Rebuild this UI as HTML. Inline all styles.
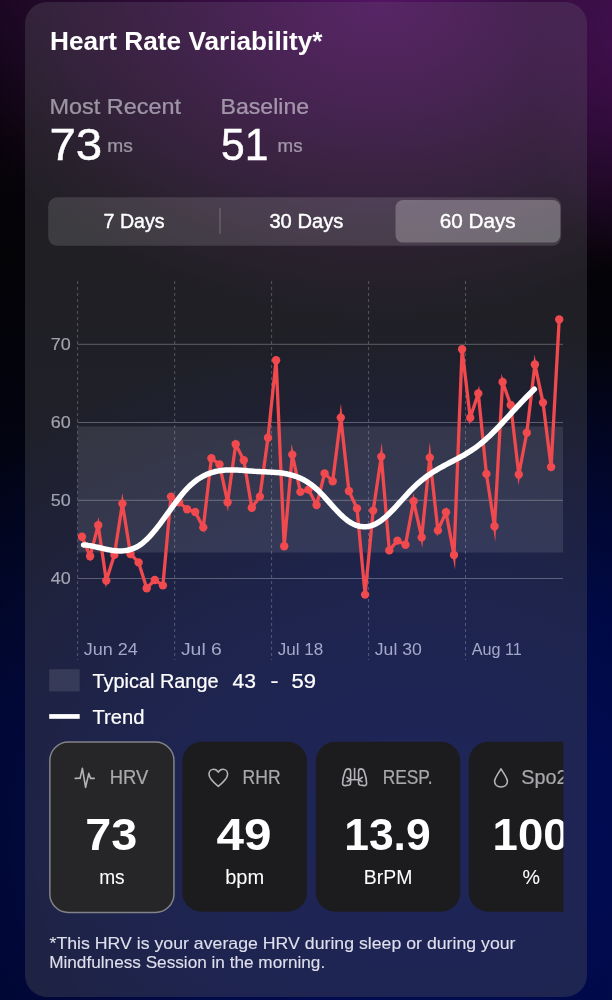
<!DOCTYPE html>
<html><head><meta charset="utf-8"><style>
html,body{margin:0;padding:0;width:612px;height:1000px;overflow:hidden}
body{position:relative;background:#08061a}
#bg{position:absolute;left:0;top:0;width:612px;height:1000px;
background:
 radial-gradient(ellipse 440px 320px at 380px 0px, rgba(98,22,116,0.84), rgba(98,22,116,0.38) 50%, rgba(98,22,116,0) 100%), radial-gradient(ellipse 90px 230px at 620px 40px, rgba(70,16,84,0.6), rgba(70,16,84,0) 100%),
 radial-gradient(ellipse 200px 140px at 20px 0px, rgba(50,12,60,0.22), rgba(50,12,60,0) 100%),
 radial-gradient(ellipse 620px 500px at 420px 820px, rgba(0,14,104,0.86), rgba(0,14,104,0.56) 50%, rgba(0,14,104,0) 100%),
 linear-gradient(180deg, #0c0410 0%, #040306 26%, #020414 50%, #01051c 75%, #010520 100%);}
#card{position:absolute;left:25px;top:2px;width:562px;height:995px;border-radius:22px;background:radial-gradient(ellipse 380px 240px at 350px 10px, rgba(100,24,120,0.26), rgba(100,24,120,0) 100%),rgba(84,84,90,0.36);}
svg{position:absolute;left:0;top:0;will-change:transform}
text{font-family:"Liberation Sans",sans-serif}
</style></head><body>
<div id="bg"></div>
<div id="card"></div>
<svg width="612" height="1000" viewBox="0 0 612 1000">
<!-- segmented control -->
<rect x="48.2" y="197.3" width="513" height="48.5" rx="9" fill="rgba(255,255,255,0.13)"/>
<rect x="395.5" y="200" width="164.8" height="42.6" rx="7.5" fill="rgba(255,255,255,0.235)"/>
<line x1="220" y1="208" x2="220" y2="234" stroke="rgba(255,255,255,0.22)" stroke-width="1.2"/>
<!-- chart band -->
<rect x="77.6" y="426.5" width="485.4" height="126" fill="rgba(255,255,255,0.10)"/>
<!-- grid -->
<g stroke="rgba(255,255,255,0.28)" stroke-width="1">
<line x1="77.6" y1="344.3" x2="563" y2="344.3"/><line x1="77.6" y1="422.5" x2="563" y2="422.5"/><line x1="77.6" y1="500.3" x2="563" y2="500.3"/><line x1="77.6" y1="578.5" x2="563" y2="578.5"/>
</g>
<g stroke="rgba(255,255,255,0.24)" stroke-width="1" stroke-dasharray="3 3">
<line x1="77.6" y1="281" x2="77.6" y2="660"/><line x1="174.7" y1="281" x2="174.7" y2="660"/><line x1="271.6" y1="281" x2="271.6" y2="660"/><line x1="368.6" y1="281" x2="368.6" y2="660"/><line x1="465.5" y1="281" x2="465.5" y2="660"/>
</g>
<!-- data -->
<polyline points="82.0,536.7 90.1,556.3 98.2,525.2 106.3,580.6 114.4,554.9 122.4,503.6 130.5,554.0 138.6,562.4 146.7,588.2 154.8,580.0 162.9,585.4 171.0,496.6 179.1,502.2 187.1,509.2 195.2,512.0 203.3,527.4 211.4,458.3 219.5,464.4 227.6,502.2 235.7,444.3 243.8,460.2 251.8,507.8 259.9,496.6 268.0,437.8 276.1,360.2 284.2,546.2 292.3,454.6 300.4,491.9 308.5,489.6 316.6,505.0 324.6,473.4 332.7,481.2 340.8,417.6 348.9,491.0 357.0,508.4 365.1,594.6 373.2,510.6 381.3,456.6 389.3,550.4 397.4,540.6 405.5,544.8 413.6,501.3 421.7,537.4 429.8,457.6 437.9,530.4 446.0,512.2 454.0,555.0 462.1,349.2 470.2,417.8 478.3,393.4 486.4,473.9 494.5,526.2 502.6,382.0 510.7,405.0 518.8,474.5 526.8,432.8 534.9,364.5 543.0,402.6 551.1,467.0 559.2,319.4" fill="none" stroke="#f04a4f" stroke-width="3.3" stroke-linejoin="miter" stroke-miterlimit="10"/>
<g fill="#f04a4f"><circle cx="82.0" cy="536.7" r="4.2"/><circle cx="90.1" cy="556.3" r="4.2"/><circle cx="98.2" cy="525.2" r="4.2"/><circle cx="106.3" cy="580.6" r="4.2"/><circle cx="114.4" cy="554.9" r="4.2"/><circle cx="122.4" cy="503.6" r="4.2"/><circle cx="130.5" cy="554.0" r="4.2"/><circle cx="138.6" cy="562.4" r="4.2"/><circle cx="146.7" cy="588.2" r="4.2"/><circle cx="154.8" cy="580.0" r="4.2"/><circle cx="162.9" cy="585.4" r="4.2"/><circle cx="171.0" cy="496.6" r="4.2"/><circle cx="179.1" cy="502.2" r="4.2"/><circle cx="187.1" cy="509.2" r="4.2"/><circle cx="195.2" cy="512.0" r="4.2"/><circle cx="203.3" cy="527.4" r="4.2"/><circle cx="211.4" cy="458.3" r="4.2"/><circle cx="219.5" cy="464.4" r="4.2"/><circle cx="227.6" cy="502.2" r="4.2"/><circle cx="235.7" cy="444.3" r="4.2"/><circle cx="243.8" cy="460.2" r="4.2"/><circle cx="251.8" cy="507.8" r="4.2"/><circle cx="259.9" cy="496.6" r="4.2"/><circle cx="268.0" cy="437.8" r="4.2"/><circle cx="276.1" cy="360.2" r="4.2"/><circle cx="284.2" cy="546.2" r="4.2"/><circle cx="292.3" cy="454.6" r="4.2"/><circle cx="300.4" cy="491.9" r="4.2"/><circle cx="308.5" cy="489.6" r="4.2"/><circle cx="316.6" cy="505.0" r="4.2"/><circle cx="324.6" cy="473.4" r="4.2"/><circle cx="332.7" cy="481.2" r="4.2"/><circle cx="340.8" cy="417.6" r="4.2"/><circle cx="348.9" cy="491.0" r="4.2"/><circle cx="357.0" cy="508.4" r="4.2"/><circle cx="365.1" cy="594.6" r="4.2"/><circle cx="373.2" cy="510.6" r="4.2"/><circle cx="381.3" cy="456.6" r="4.2"/><circle cx="389.3" cy="550.4" r="4.2"/><circle cx="397.4" cy="540.6" r="4.2"/><circle cx="405.5" cy="544.8" r="4.2"/><circle cx="413.6" cy="501.3" r="4.2"/><circle cx="421.7" cy="537.4" r="4.2"/><circle cx="429.8" cy="457.6" r="4.2"/><circle cx="437.9" cy="530.4" r="4.2"/><circle cx="446.0" cy="512.2" r="4.2"/><circle cx="454.0" cy="555.0" r="4.2"/><circle cx="462.1" cy="349.2" r="4.2"/><circle cx="470.2" cy="417.8" r="4.2"/><circle cx="478.3" cy="393.4" r="4.2"/><circle cx="486.4" cy="473.9" r="4.2"/><circle cx="494.5" cy="526.2" r="4.2"/><circle cx="502.6" cy="382.0" r="4.2"/><circle cx="510.7" cy="405.0" r="4.2"/><circle cx="518.8" cy="474.5" r="4.2"/><circle cx="526.8" cy="432.8" r="4.2"/><circle cx="534.9" cy="364.5" r="4.2"/><circle cx="543.0" cy="402.6" r="4.2"/><circle cx="551.1" cy="467.0" r="4.2"/><circle cx="559.2" cy="319.4" r="4.2"/></g>
<path d="M83.5,544.91 L85.5,545.10 L87.5,545.35 L89.5,545.65 L91.5,546.01 L93.5,546.40 L95.5,546.83 L97.5,547.27 L99.5,547.73 L101.5,548.19 L103.5,548.64 L105.5,549.07 L107.5,549.49 L109.5,549.86 L111.5,550.20 L113.5,550.48 L115.5,550.70 L117.5,550.85 L119.5,550.92 L121.5,550.91 L123.5,550.79 L125.5,550.57 L127.5,550.24 L129.5,549.78 L131.5,549.18 L133.5,548.45 L135.5,547.56 L137.5,546.51 L139.5,545.29 L141.5,543.89 L143.5,542.31 L145.5,540.55 L147.5,538.64 L149.5,536.58 L151.5,534.38 L153.5,532.07 L155.5,529.65 L157.5,527.15 L159.5,524.56 L161.5,521.91 L163.5,519.21 L165.5,516.48 L167.5,513.72 L169.5,510.95 L171.5,508.19 L173.5,505.44 L175.5,502.73 L177.5,500.07 L179.5,497.47 L181.5,494.95 L183.5,492.54 L185.5,490.26 L187.5,488.13 L189.5,486.14 L191.5,484.30 L193.5,482.59 L195.5,481.02 L197.5,479.58 L199.5,478.25 L201.5,477.05 L203.5,475.96 L205.5,474.98 L207.5,474.10 L209.5,473.33 L211.5,472.64 L213.5,472.05 L215.5,471.53 L217.5,471.10 L219.5,470.74 L221.5,470.45 L223.5,470.23 L225.5,470.06 L227.5,469.95 L229.5,469.89 L231.5,469.88 L233.5,469.90 L235.5,469.96 L237.5,470.05 L239.5,470.16 L241.5,470.29 L243.5,470.44 L245.5,470.60 L247.5,470.77 L249.5,470.93 L251.5,471.09 L253.5,471.24 L255.5,471.38 L257.5,471.50 L259.5,471.60 L261.5,471.69 L263.5,471.77 L265.5,471.85 L267.5,471.94 L269.5,472.03 L271.5,472.14 L273.5,472.26 L275.5,472.41 L277.5,472.59 L279.5,472.80 L281.5,473.04 L283.5,473.34 L285.5,473.68 L287.5,474.07 L289.5,474.53 L291.5,475.04 L293.5,475.63 L295.5,476.29 L297.5,477.03 L299.5,477.85 L301.5,478.77 L303.5,479.78 L305.5,480.88 L307.5,482.09 L309.5,483.42 L311.5,484.85 L313.5,486.41 L315.5,488.09 L317.5,489.89 L319.5,491.82 L321.5,493.85 L323.5,495.96 L325.5,498.13 L327.5,500.35 L329.5,502.58 L331.5,504.82 L333.5,507.04 L335.5,509.23 L337.5,511.36 L339.5,513.42 L341.5,515.38 L343.5,517.23 L345.5,518.95 L347.5,520.51 L349.5,521.90 L351.5,523.12 L353.5,524.16 L355.5,525.03 L357.5,525.73 L359.5,526.24 L361.5,526.59 L363.5,526.75 L365.5,526.74 L367.5,526.55 L369.5,526.18 L371.5,525.64 L373.5,524.91 L375.5,524.01 L377.5,522.92 L379.5,521.66 L381.5,520.25 L383.5,518.69 L385.5,517.00 L387.5,515.19 L389.5,513.28 L391.5,511.29 L393.5,509.22 L395.5,507.09 L397.5,504.91 L399.5,502.71 L401.5,500.49 L403.5,498.27 L405.5,496.05 L407.5,493.87 L409.5,491.72 L411.5,489.63 L413.5,487.61 L415.5,485.67 L417.5,483.82 L419.5,482.06 L421.5,480.38 L423.5,478.79 L425.5,477.26 L427.5,475.81 L429.5,474.42 L431.5,473.08 L433.5,471.80 L435.5,470.57 L437.5,469.38 L439.5,468.22 L441.5,467.10 L443.5,466.00 L445.5,464.92 L447.5,463.86 L449.5,462.80 L451.5,461.76 L453.5,460.71 L455.5,459.65 L457.5,458.59 L459.5,457.51 L461.5,456.40 L463.5,455.27 L465.5,454.11 L467.5,452.91 L469.5,451.67 L471.5,450.37 L473.5,449.03 L475.5,447.63 L477.5,446.16 L479.5,444.62 L481.5,443.01 L483.5,441.33 L485.5,439.58 L487.5,437.76 L489.5,435.89 L491.5,433.97 L493.5,432.00 L495.5,429.99 L497.5,427.93 L499.5,425.85 L501.5,423.74 L503.5,421.60 L505.5,419.45 L507.5,417.28 L509.5,415.10 L511.5,412.92 L513.5,410.74 L515.5,408.57 L517.5,406.41 L519.5,404.27 L521.5,402.14 L523.5,400.04 L525.5,397.98 L527.5,395.95 L529.5,393.95 L531.5,392.01 L533.5,390.11 L534.4,389.28" fill="none" stroke="#fff" stroke-width="5.5" stroke-linecap="round" stroke-linejoin="round"/>
<!-- legend -->
<rect x="49.2" y="669.2" width="30.5" height="22.2" fill="rgba(255,255,255,0.11)"/>
<rect x="49.2" y="714.1" width="30.5" height="4.7" fill="#fff"/>
<!-- cards -->
<defs><clipPath id="cc"><rect x="0" y="730" width="563.4" height="200"/></clipPath></defs>
<g clip-path="url(#cc)">
<rect x="49.85" y="742.1" width="124.1" height="170.3" rx="18.5" fill="#262628" stroke="#838389" stroke-width="1.5"/><text x="111.30000000000001" y="849.8" font-size="43.5" font-weight="700" fill="#fff" text-anchor="middle" textLength="52" lengthAdjust="spacingAndGlyphs">73</text><text x="111.9" y="883.5" font-size="20" font-weight="400" fill="#fff" stroke="#fff" stroke-width="0.05" text-anchor="middle" textLength="25.5" lengthAdjust="spacingAndGlyphs">ms</text><rect x="182.3" y="741.8" width="124.7" height="170" rx="19.5" fill="#1c1c1e"/><text x="244.05" y="849.8" font-size="43.5" font-weight="700" fill="#fff" text-anchor="middle" textLength="55" lengthAdjust="spacingAndGlyphs">49</text><text x="244.65" y="883.5" font-size="20" font-weight="400" fill="#fff" stroke="#fff" stroke-width="0.05" text-anchor="middle" textLength="39" lengthAdjust="spacingAndGlyphs">bpm</text><rect x="315.8" y="741.8" width="144.5" height="170" rx="19.5" fill="#1c1c1e"/><text x="387.45" y="849.8" font-size="43.5" font-weight="700" fill="#fff" text-anchor="middle" textLength="86.5" lengthAdjust="spacingAndGlyphs">13.9</text><text x="388.05" y="883.5" font-size="20" font-weight="400" fill="#fff" stroke="#fff" stroke-width="0.05" text-anchor="middle" textLength="48.5" lengthAdjust="spacingAndGlyphs">BrPM</text><rect x="468.7" y="741.8" width="125" height="170" rx="19.5" fill="#1c1c1e"/><text x="530.6" y="849.8" font-size="43.5" font-weight="700" fill="#fff" text-anchor="middle" textLength="76" lengthAdjust="spacingAndGlyphs">100</text><text x="531.2" y="883.5" font-size="20" font-weight="400" fill="#fff" stroke="#fff" stroke-width="0.05" text-anchor="middle" textLength="17.5" lengthAdjust="spacingAndGlyphs">%</text><text x="109.7" y="784.4" font-size="19.8" font-weight="400" fill="#a9a9ad" stroke="#a9a9ad" stroke-width="0.22" text-anchor="start" textLength="38.5" lengthAdjust="spacingAndGlyphs">HRV</text><text x="242.6" y="784.4" font-size="19.8" font-weight="400" fill="#a9a9ad" stroke="#a9a9ad" stroke-width="0.22" text-anchor="start" textLength="38" lengthAdjust="spacingAndGlyphs">RHR</text><text x="382.7" y="784.4" font-size="19.8" font-weight="400" fill="#a9a9ad" stroke="#a9a9ad" stroke-width="0.22" text-anchor="start" textLength="49.8" lengthAdjust="spacingAndGlyphs">RESP.</text><text x="521.2" y="784.4" font-size="19.8" font-weight="400" fill="#a9a9ad" stroke="#a9a9ad" stroke-width="0.22" text-anchor="start">Spo2</text>

<g fill="none" stroke="#b4b4b8" stroke-width="1.6" stroke-linejoin="round" stroke-linecap="round">
<path d="M75.2,778.4 L80.1,778.2 L82.4,768.4 L85.6,787.4 L88.8,773.4 L90.6,778.4 L94.2,778.4"/>
<path d="M218.3,786.3 C213,782 209,778.5 209,774.2 C209,771 211.2,769.2 213.6,769.2 C215.8,769.2 217.3,770.4 218.3,772.2 C219.3,770.4 220.8,769.2 223,769.2 C225.4,769.2 227.6,771 227.6,774.2 C227.6,778.5 223.6,782 218.3,786.3 Z"/>
<path d="M350.6,771.5 C350.6,769.8 349.5,768.9 348.2,768.9 C346.6,768.9 345.6,770 345,771.6 C343.8,775 342.6,779.5 342.6,783.2 C342.6,785 343.6,785.8 345.2,785.6 L349.2,785 C350.3,784.8 350.6,784.2 350.6,783 Z"/>
<path d="M358.6,771.5 C358.6,769.8 359.7,768.9 361,768.9 C362.6,768.9 363.6,770 364.2,771.6 C365.4,775 366.6,779.5 366.6,783.2 C366.6,785 365.6,785.8 364,785.6 L360,785 C358.9,784.8 358.6,784.2 358.6,783 Z"/>
<path d="M354.6,768.6 L354.6,779.6 M350.6,779.8 L358.6,779.8 M350.6,779.8 L346.8,777.4 M350.6,779.8 L347.2,781.6 M358.6,779.8 L362.4,777.4 M358.6,779.8 L362,781.6"/>
<path d="M501,768.8 C499,772.6 494.6,778 494.6,781.3 C494.6,784.9 497.4,787 501,787 C504.6,787 507.4,784.9 507.4,781.3 C507.4,778 503,772.6 501,768.8 Z"/>
</g>
</g>
<text x="50" y="49.9" font-size="25.5" font-weight="700" fill="#fff" text-anchor="start" textLength="272.5" lengthAdjust="spacingAndGlyphs">Heart Rate Variability*</text><text x="49.5" y="114" font-size="22.5" font-weight="400" fill="rgb(228,226,236)" stroke="rgb(228,226,236)" stroke-width="0.22" opacity="0.6" text-anchor="start" textLength="131.5" lengthAdjust="spacingAndGlyphs">Most Recent</text><text x="49.4" y="160.1" font-size="44" font-weight="400" fill="#fff" stroke="#fff" stroke-width="0.45" text-anchor="start" textLength="52.8" lengthAdjust="spacingAndGlyphs">73</text><text x="107.2" y="151.9" font-size="18.8" font-weight="400" fill="rgb(228,226,236)" stroke="rgb(228,226,236)" stroke-width="0.22" opacity="0.6" text-anchor="start" textLength="25.6" lengthAdjust="spacingAndGlyphs">ms</text><text x="220.5" y="113.5" font-size="22.5" font-weight="400" fill="rgb(228,226,236)" stroke="rgb(228,226,236)" stroke-width="0.22" opacity="0.6" text-anchor="start" textLength="88.6" lengthAdjust="spacingAndGlyphs">Baseline</text><text x="221" y="160.2" font-size="44" font-weight="400" fill="#fff" stroke="#fff" stroke-width="0.45" text-anchor="start" textLength="47.4" lengthAdjust="spacingAndGlyphs">51</text><text x="277.6" y="151.9" font-size="18.8" font-weight="400" fill="rgb(228,226,236)" stroke="rgb(228,226,236)" stroke-width="0.22" opacity="0.6" text-anchor="start" textLength="25.0" lengthAdjust="spacingAndGlyphs">ms</text><text x="134.1" y="228.1" font-size="19.5" font-weight="400" fill="#fff" stroke="#fff" stroke-width="0.4" text-anchor="middle" textLength="61" lengthAdjust="spacingAndGlyphs">7 Days</text><text x="306.4" y="228.1" font-size="19.5" font-weight="400" fill="#fff" stroke="#fff" stroke-width="0.4" text-anchor="middle" textLength="74" lengthAdjust="spacingAndGlyphs">30 Days</text><text x="477.7" y="228.1" font-size="19.5" font-weight="400" fill="#fff" stroke="#fff" stroke-width="0.4" text-anchor="middle" textLength="76" lengthAdjust="spacingAndGlyphs">60 Days</text><text x="50.8" y="349.8" font-size="16.6" font-weight="400" fill="rgb(228,228,238)" stroke="rgb(228,228,238)" stroke-width="0.1" opacity="0.68" text-anchor="start" textLength="20.0" lengthAdjust="spacingAndGlyphs">70</text><text x="50.8" y="428.0" font-size="16.6" font-weight="400" fill="rgb(228,228,238)" stroke="rgb(228,228,238)" stroke-width="0.1" opacity="0.68" text-anchor="start" textLength="20.0" lengthAdjust="spacingAndGlyphs">60</text><text x="50.8" y="505.8" font-size="16.6" font-weight="400" fill="rgb(228,228,238)" stroke="rgb(228,228,238)" stroke-width="0.1" opacity="0.68" text-anchor="start" textLength="20.0" lengthAdjust="spacingAndGlyphs">50</text><text x="50.8" y="584.0" font-size="16.6" font-weight="400" fill="rgb(228,228,238)" stroke="rgb(228,228,238)" stroke-width="0.1" opacity="0.68" text-anchor="start" textLength="20.0" lengthAdjust="spacingAndGlyphs">40</text><text x="83.8" y="655.1" font-size="17" font-weight="400" fill="rgb(215,220,248)" opacity="0.72" text-anchor="start" textLength="54" lengthAdjust="spacingAndGlyphs">Jun 24</text><text x="180.89999999999998" y="655.1" font-size="17" font-weight="400" fill="rgb(215,220,248)" opacity="0.72" text-anchor="start" textLength="41" lengthAdjust="spacingAndGlyphs">Jul 6</text><text x="277.8" y="655.1" font-size="17" font-weight="400" fill="rgb(215,220,248)" opacity="0.72" text-anchor="start" textLength="45.5" lengthAdjust="spacingAndGlyphs">Jul 18</text><text x="374.8" y="655.1" font-size="17" font-weight="400" fill="rgb(215,220,248)" opacity="0.72" text-anchor="start" textLength="47" lengthAdjust="spacingAndGlyphs">Jul 30</text><text x="471.7" y="655.1" font-size="17" font-weight="400" fill="rgb(215,220,248)" opacity="0.72" text-anchor="start" textLength="50" lengthAdjust="spacingAndGlyphs">Aug 11</text><text x="92.5" y="687.5" font-size="19.7" font-weight="400" fill="#fff" stroke="#fff" stroke-width="0.22" text-anchor="start" textLength="126" lengthAdjust="spacingAndGlyphs">Typical Range</text><text x="232.5" y="687.5" font-size="19.7" font-weight="400" fill="#fff" stroke="#fff" stroke-width="0.22" text-anchor="start" textLength="23.5" lengthAdjust="spacingAndGlyphs">43</text><text x="270.5" y="687.5" font-size="19.7" font-weight="400" fill="#fff" stroke="#fff" stroke-width="0.22" text-anchor="start" textLength="8" lengthAdjust="spacingAndGlyphs">-</text><text x="291.5" y="687.5" font-size="19.7" font-weight="400" fill="#fff" stroke="#fff" stroke-width="0.22" text-anchor="start" textLength="24.5" lengthAdjust="spacingAndGlyphs">59</text><text x="92.5" y="723.8" font-size="19.7" font-weight="400" fill="#fff" stroke="#fff" stroke-width="0.22" text-anchor="start" textLength="52" lengthAdjust="spacingAndGlyphs">Trend</text><text x="49.5" y="948.5" font-size="16.5" font-weight="400" fill="rgb(240,240,250)" stroke="rgb(240,240,250)" stroke-width="0.1" opacity="0.92" text-anchor="start" textLength="466" lengthAdjust="spacingAndGlyphs">*This HRV is your average HRV during sleep or during your</text><text x="49.2" y="968.1" font-size="16.5" font-weight="400" fill="rgb(240,240,250)" stroke="rgb(240,240,250)" stroke-width="0.1" opacity="0.92" text-anchor="start" textLength="276" lengthAdjust="spacingAndGlyphs">Mindfulness Session in the morning.</text>
</svg>
</body></html>
